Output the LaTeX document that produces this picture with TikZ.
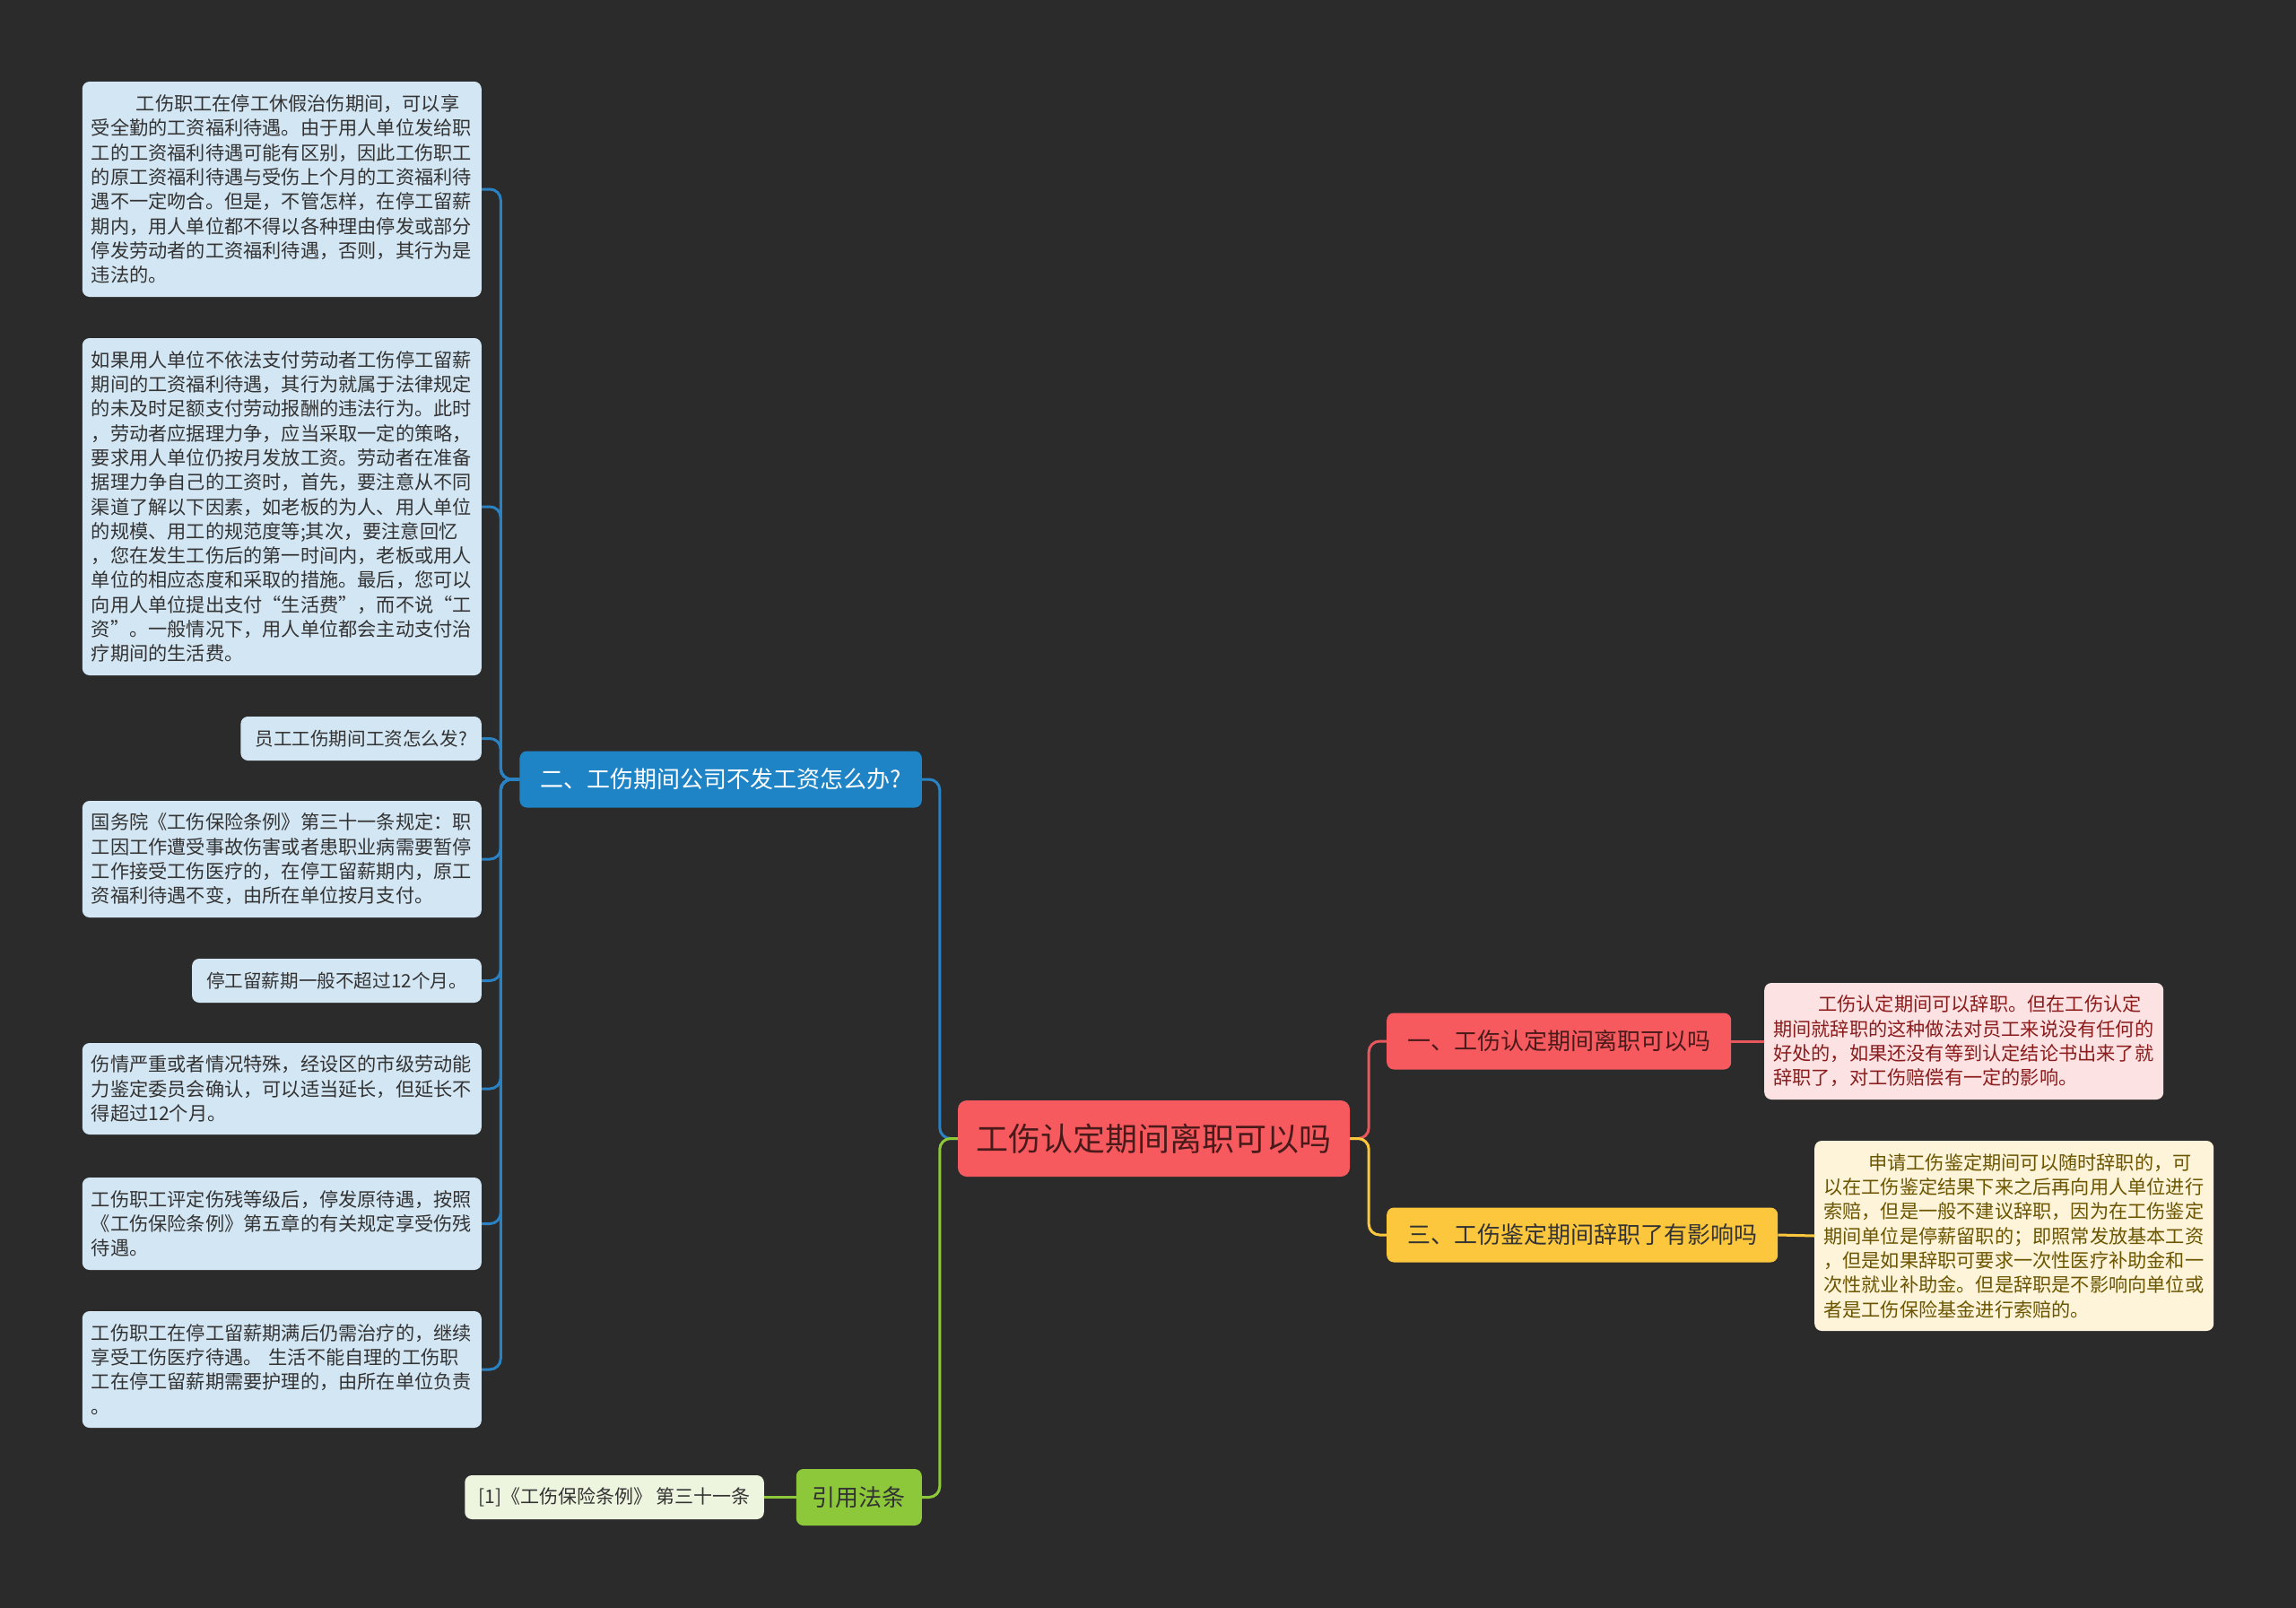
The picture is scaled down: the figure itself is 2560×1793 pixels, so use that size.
\documentclass[tikz,border=0pt]{standalone}
\usepackage{fontspec}
\setmainfont{Noto Sans CJK SC}
\definecolor{bgc}{HTML}{2B2B2B}
\definecolor{leafblue}{HTML}{D3E6F3}
\definecolor{bluemain}{HTML}{1F84C6}
\definecolor{blueline}{HTML}{2A82C2}
\definecolor{redmain}{HTML}{F65A5F}
\definecolor{redline}{HTML}{E8575C}
\definecolor{pinkleaf}{HTML}{FDE2E3}
\definecolor{pinktext}{HTML}{8A1C1C}
\definecolor{yellowmain}{HTML}{FCC73C}
\definecolor{creamleaf}{HTML}{FEF4D9}
\definecolor{creamtext}{HTML}{6B5500}
\definecolor{greenmain}{HTML}{8CC83A}
\definecolor{greenleaf}{HTML}{EEF5DF}
\definecolor{darktext}{HTML}{333333}
\definecolor{roottext}{HTML}{4A1A1A}
\begin{document}
\begin{tikzpicture}[x=1pt,y=-1pt,
  leafbox/.style={fill=leafblue, rounded corners=8pt, text=darktext,
    font=\fontsize{21.2}{27.3}\selectfont, align=left, text width=425pt,
    inner xsep=10pt, inner ysep=0pt, anchor=east},
  singlebox/.style={fill=leafblue, rounded corners=8pt, text=darktext,
    font=\fontsize{20.6}{27.3}\selectfont, inner xsep=16pt, inner ysep=0pt,
    minimum height=49pt, anchor=east},
  subbox/.style={rounded corners=8pt, font=\fontsize{26}{30}\selectfont,
    inner xsep=23pt, inner ysep=0pt, minimum height=63pt},
  conn/.style={line width=3pt, rounded corners=12pt}
]
\useasboundingbox (0,0) rectangle (2560,1793);
\fill[bgc] (0,0) rectangle (2560,1793);

% root
\node[fill=redmain, rounded corners=10pt, text=roottext, font=\fontsize{36}{40}\selectfont,
  minimum width=437pt, minimum height=85pt, inner sep=0pt] (root) at (1286.5,1269.5) {工伤认定期间离职可以吗};

% main topics
\node[subbox, fill=bluemain, text=white, anchor=east] (sub2) at (1028,869) {二、工伤期间公司不发工资怎么办?};
\node[subbox, fill=greenmain, text=darktext, anchor=east, inner xsep=18pt] (sub4) at (1028,1669.5) {引用法条};
\node[subbox, fill=redmain, text=roottext, anchor=west] (sub1) at (1546,1161) {一、工伤认定期间离职可以吗};
\node[subbox, fill=yellowmain, text=darktext, anchor=west, minimum height=61pt] (sub3) at (1546,1377) {三、工伤鉴定期间辞职了有影响吗};

% blue leaves
\node[leafbox, minimum height=240pt] (l1) at (537,211) {\hspace*{50pt}工伤职工在停工休假治伤期间，可以享\\受全勤的工资福利待遇。由于用人单位发给职\\工的工资福利待遇可能有区别，因此工伤职工\\的原工资福利待遇与受伤上个月的工资福利待\\遇不一定吻合。但是，不管怎样，在停工留薪\\期内，用人单位都不得以各种理由停发或部分\\停发劳动者的工资福利待遇，否则，其行为是\\违法的。};
\node[leafbox, minimum height=376pt] (l2) at (537,565) {如果用人单位不依法支付劳动者工伤停工留薪\\期间的工资福利待遇，其行为就属于法律规定\\的未及时足额支付劳动报酬的违法行为。此时\\，劳动者应据理力争，应当采取一定的策略，\\要求用人单位仍按月发放工资。劳动者在准备\\据理力争自己的工资时，首先，要注意从不同\\渠道了解以下因素，如老板的为人、用人单位\\的规模、用工的规范度等;其次，要注意回忆\\，您在发生工伤后的第一时间内，老板或用人\\单位的相应态度和采取的措施。最后，您可以\\向用人单位提出支付“生活费”，而不说“工\\资”。一般情况下，用人单位都会主动支付治\\疗期间的生活费。};
\node[singlebox] (l3) at (537,823.5) {员工工伤期间工资怎么发?};
\node[leafbox, minimum height=130pt] (l4) at (537,958) {国务院《工伤保险条例》第三十一条规定：职\\工因工作遭受事故伤害或者患职业病需要暂停\\工作接受工伤医疗的，在停工留薪期内，原工\\资福利待遇不变，由所在单位按月支付。};
\node[singlebox] (l5) at (537,1093.5) {停工留薪期一般不超过12个月。};
\node[leafbox, minimum height=102pt] (l6) at (537,1214) {伤情严重或者情况特殊，经设区的市级劳动能\\力鉴定委员会确认，可以适当延长，但延长不\\得超过12个月。};
\node[leafbox, minimum height=103pt] (l7) at (537,1364.5) {工伤职工评定伤残等级后，停发原待遇，按照\\《工伤保险条例》第五章的有关规定享受伤残\\待遇。};
\node[leafbox, minimum height=130pt] (l8) at (537,1527) {工伤职工在停工留薪期满后仍需治疗的，继续\\享受工伤医疗待遇。 生活不能自理的工伤职\\工在停工留薪期需要护理的，由所在单位负责\\。};

% right leaves
\node[leafbox, fill=pinkleaf, text=pinktext, anchor=west, minimum height=130pt] (p1) at (1967,1161) {\hspace*{50pt}工伤认定期间可以辞职。但在工伤认定\\期间就辞职的这种做法对员工来说没有任何的\\好处的，如果还没有等到认定结论书出来了就\\辞职了，对工伤赔偿有一定的影响。};
\node[leafbox, fill=creamleaf, text=creamtext, anchor=west, minimum height=212pt] (c1) at (2023,1378) {\hspace*{50pt}申请工伤鉴定期间可以随时辞职的，可\\以在工伤鉴定结果下来之后再向用人单位进行\\索赔，但是一般不建议辞职，因为在工伤鉴定\\期间单位是停薪留职的；即照常发放基本工资\\，但是如果辞职可要求一次性医疗补助金和一\\次性就业补助金。但是辞职是不影响向单位或\\者是工伤保险基金进行索赔的。};

% green leaf
\node[singlebox, fill=greenleaf, font=\fontsize{21}{27.3}\selectfont, inner xsep=15pt] (g1) at (852,1669.5) {[1]《工伤保险条例》 第三十一条};

% connectors
\draw[conn, blueline] (root.west) -- ++(-20,0) |- (sub2.east);
\draw[conn, greenmain] (root.west) -- ++(-20,0) |- (sub4.east);
\draw[conn, redline] (root.east) -- ++(21,0) |- (sub1.west);
\draw[conn, yellowmain] (root.east) -- ++(21,0) |- (sub3.west);
\foreach \n in {l1,l2,l3,l4,l5,l6,l7,l8}
  \draw[conn, blueline] (sub2.west) -- ++(-21,0) |- (\n.east);
\draw[conn, redline] (sub1.east) -- (p1.west);
\draw[conn, yellowmain] (sub3.east) -- (c1.west);
\draw[conn, greenmain] (sub4.west) -- (g1.east);
\end{tikzpicture}
\end{document}
